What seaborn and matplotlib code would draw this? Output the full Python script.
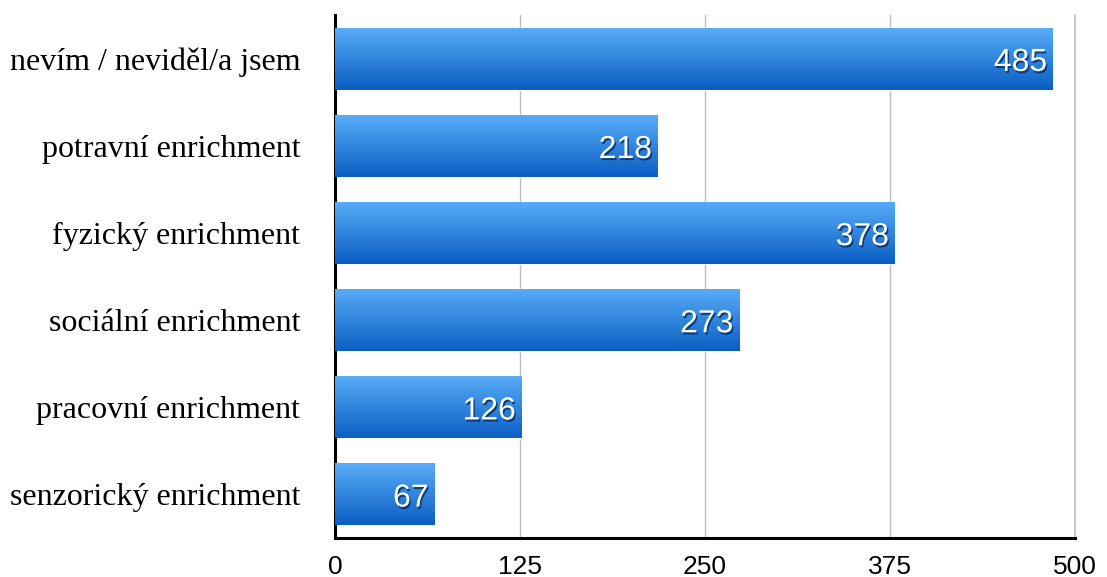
import numpy as np
import pandas as pd
import seaborn as sns
import matplotlib.pyplot as plt
import matplotlib.patheffects as pe
from matplotlib.colors import to_rgb

# data
kategorie = ['nevím / neviděl/a jsem', 'potravní enrichment', 'fyzický enrichment',
             'sociální enrichment', 'pracovní enrichment', 'senzorický enrichment']
pocty = [485, 218, 378, 273, 126, 67]
ticks = [0, 125, 250, 375, 500]

df = pd.DataFrame({'kategorie': kategorie, 'pocet': pocty})

sns.set_style('white')
plt.rcParams['text.color'] = 'black'
plt.rcParams['xtick.color'] = 'black'
plt.rcParams['ytick.color'] = 'black'

fig = plt.figure(figsize=(11.07, 5.77), dpi=100)
ax = fig.add_axes([0.3026, 0.0676, 0.6685, 0.906])

sns.barplot(data=df, x='pocet', y='kategorie', orient='h', width=0.71,
            color='#2a7fdc', ax=ax, zorder=2)

# gradient na sloupcich
top_c = np.array(to_rgb('#58acf8'))
bot_c = np.array(to_rgb('#0a5ec2'))
grad = np.linspace(0, 1, 256)[:, None, None]
img = top_c * (1 - grad) + bot_c * grad
for p in ax.patches:
    x0, y0 = p.get_x(), p.get_y()
    w, h = p.get_width(), p.get_height()
    ax.imshow(img, extent=[x0, x0 + w, y0 + h, y0], origin='upper',
              aspect='auto', zorder=3, interpolation='bilinear')
    p.set_facecolor('none')

# popisky hodnot
for i, v in enumerate(pocty):
    ax.annotate(str(v), xy=(v, i), xytext=(-4, -3), textcoords='offset points',
                ha='right', va='center', color='white', fontsize=23,
                family='Liberation Sans', zorder=5,
                path_effects=[pe.withSimplePatchShadow(offset=(1, -1.5),
                                                       shadow_rgbFace='#002a66',
                                                       alpha=0.8)])

ax.set_xlim(0, 500)
ax.set_ylim(5.5, -0.5)
ax.set_xticks(ticks)
ax.set_xticklabels([str(t) for t in ticks], family='Liberation Sans', fontsize=19)
ax.set_yticks(range(len(kategorie)))
ax.set_yticklabels(kategorie, family='Liberation Serif', fontsize=23)
ax.tick_params(axis='x', length=0, pad=12)
ax.tick_params(axis='y', length=0, pad=25)
ax.set_xlabel('')
ax.set_ylabel('')

ax.grid(axis='x', color='#bdbdbd', linewidth=1, zorder=0)
ax.grid(axis='y', visible=False)
ax.set_axisbelow(True)
ax.axvline(500, color='#bdbdbd', linewidth=1.2, clip_on=False, zorder=1)

for s in ['top', 'right']:
    ax.spines[s].set_visible(False)
for s in ['left', 'bottom']:
    ax.spines[s].set_color('black')
    ax.spines[s].set_linewidth(2.2)

plt.savefig('out.png', dpi=100)
